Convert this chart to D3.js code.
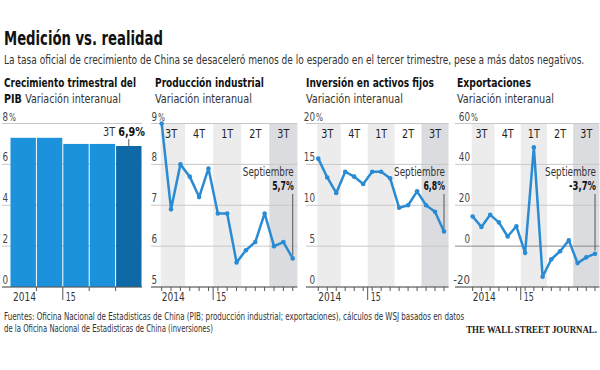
<!DOCTYPE html>
<html>
<head>
<meta charset="utf-8">
<script src="https://cdn.jsdelivr.net/npm/d3@7"></script>
<style>
  body { margin: 0; background: #fff; }
  svg text { font-family: "Liberation Sans Narrow", "DejaVu Sans Condensed", "Roboto", sans-serif; fill: #222; }
</style>
</head>
<body>
<div id="chart"></div>
<script>
// data
const months = ["jul 2014", "ago", "sep", "oct", "nov", "dic", "ene 2015", "feb", "mar", "abr", "may", "jun", "jul", "ago", "sep"];
const quarterLabels = ["3T", "4T", "1T", "2T", "3T"];
const gdpQuarters = ["3T 2014", "4T 2014", "1T 2015", "2T 2015", "3T 2015"];
const gdpValues = [7.3, 7.3, 7.0, 7.0, 6.9];
const industrialValues = [9.0, 6.9, 8.0, 7.7, 7.2, 7.9, 6.8, 6.8, 5.6, 5.9, 6.1, 6.8, 6.0, 6.1, 5.7];
const investmentValues = [15.7, 13.4, 11.5, 14.1, 13.5, 12.6, 14.1, 14.1, 13.3, 9.7, 10.0, 11.7, 10.0, 9.2, 6.8];
const exportValues = [14.5, 9.4, 15.3, 11.6, 4.7, 9.7, -3.3, 48.3, -15.0, -6.4, -2.5, 2.8, -8.3, -5.5, -3.7];
const gdpTicks = [0, 2, 4, 6, 8];
const industrialTicks = [5, 6, 7, 8, 9];
const investmentTicks = [0, 5, 10, 15, 20];
const exportTicks = [-20, 0, 20, 40, 60];
const yearLabels = ["2014", "15"];

const width = 600;
const height = 370;
const yTop = 123.5;
const yBase = 287;
const blue = "#1b92db";
const darkBlue = "#0e6aa7";
const lineBlue = "#2a8bd3";

const svg = d3.select("#chart")
  .append("svg")
  .attr("width", width)
  .attr("height", height);

// squeeze a text horizontally to the width it has in the reference (narrow font look)
function fit(sel, w, ratio = 1.35) {
  const node = sel.node();
  let len = node.getComputedTextLength();
  if (len > w * ratio) {
    const fs = parseFloat(sel.attr("font-size"));
    sel.attr("font-size", fs * w * ratio / len);
    len = node.getComputedTextLength();
  }
  const x = +sel.attr("x"), y = +sel.attr("y");
  sel.attr("x", 0).attr("y", 0)
    .attr("transform", `translate(${x},${y}) scale(${w / len},1)`);
}

// header
svg.append("text")
  .attr("x", 4).attr("y", 45)
  .attr("font-size", 19).attr("font-weight", "bold")
  .style("fill", "#111")
  .text("Medición vs. realidad")
  .call(fit, 159);

svg.append("text")
  .attr("x", 4).attr("y", 64)
  .attr("font-size", 12.5)
  .style("fill", "#333")
  .text("La tasa oficial de crecimiento de China se desaceleró menos de lo esperado en el tercer trimestre, pese a más datos negativos.")
  .call(fit, 581);

function panelTitle(x, line1, w1, boldPart, line2, w2) {
  svg.append("text")
    .attr("x", x).attr("y", 87)
    .attr("font-size", 12.5).attr("font-weight", "bold")
    .style("fill", "#111")
    .text(line1)
    .call(fit, w1);
  const t = svg.append("text")
    .attr("x", x).attr("y", 103)
    .attr("font-size", 12.5)
    .style("fill", "#333");
  if (boldPart) {
    t.append("tspan").attr("font-weight", "bold").style("fill", "#111").text(boldPart + " ");
  }
  t.append("tspan").text(line2);
  t.call(fit, w2);
}

panelTitle(4, "Crecimiento trimestral del", 132, "PIB", "Variación interanual", 117);
panelTitle(155, "Producción industrial", 109, null, "Variación interanual", 97);
panelTitle(306, "Inversión en activos fijos", 128, null, "Variación interanual", 97);
panelTitle(457, "Exportaciones", 74, null, "Variación interanual", 97);

function yLabels(g, y, ticks, xRight) {
  ticks.forEach((t, i) => {
    const s = String(t);
    g.append("text")
      .attr("x", xRight).attr("y", y(t) - 3)
      .attr("text-anchor", "end")
      .attr("font-size", 12)
      .style("fill", "#444")
      .text(s)
      .call(fit, s.length * 5.6);
    if (i === ticks.length - 1) {
      g.append("text")
        .attr("x", xRight + 1).attr("y", y(t) - 3)
        .attr("font-size", 10)
        .style("fill", "#444")
        .text("%")
        .call(fit, 7);
    }
  });
}

// GDP panel
{
  const g = svg.append("g");
  const y = d3.scaleLinear().domain([0, 8]).range([yBase, yTop]);
  const x = d3.scaleBand().domain(gdpQuarters).range([10, 142]);

  g.selectAll(".grid")
    .data(gdpTicks)
    .join("line")
    .attr("x1", 2).attr("x2", 142)
    .attr("y1", d => y(d)).attr("y2", d => y(d))
    .attr("stroke", "#c8c8c8");

  g.selectAll("rect")
    .data(gdpValues)
    .join("rect")
    .attr("x", (d, i) => x(gdpQuarters[i]) + 0.5)
    .attr("width", x.bandwidth() - 1)
    .attr("y", d => y(d))
    .attr("height", d => yBase - y(d))
    .attr("fill", (d, i) => i === gdpValues.length - 1 ? darkBlue : blue);

  yLabels(g, y, gdpTicks, 8);

  g.append("line")
    .attr("x1", 2).attr("x2", 142)
    .attr("y1", yBase).attr("y2", yBase)
    .attr("stroke", "#555");

  gdpQuarters.slice(1).forEach((q, i) => {
    g.append("line")
      .attr("x1", x(q)).attr("x2", x(q))
      .attr("y1", yBase).attr("y2", yBase + (i === 1 ? 13 : 4))
      .attr("stroke", "#555");
  });

  g.append("text").attr("x", 13).attr("y", 301).attr("font-size", 12).style("fill", "#333").text(yearLabels[0]).call(fit, 23);
  g.append("text").attr("x", x(gdpQuarters[2]) + 3).attr("y", 301).attr("font-size", 12).style("fill", "#333").text(yearLabels[1]).call(fit, 10);

  const last = gdpValues.length - 1;
  const cx = x(gdpQuarters[last]) + x.bandwidth() / 2;
  const ann = g.append("text")
    .attr("x", 145).attr("y", 136)
    .attr("text-anchor", "end")
    .attr("font-size", 12)
    .style("fill", "#333");
  ann.append("tspan").text("3T ");
  ann.append("tspan").attr("font-weight", "bold").style("fill", "#111").text(String(gdpValues[last]).replace(".", ",") + "%");
  ann.call(fit, 42);
  g.append("line")
    .attr("x1", cx).attr("x2", cx)
    .attr("y1", 139).attr("y2", y(gdpValues[last]))
    .attr("stroke", "#555");
}

// line panels
function linePanel(cfg) {
  const g = svg.append("g");
  const x = d3.scaleLinear().domain([-0.5, months.length - 0.5]).range(cfg.range);
  const y = d3.scaleLinear().domain(d3.extent(cfg.ticks)).range([yBase, yTop]);
  const left = x(0) - 1;

  quarterLabels.forEach((q, i) => {
    const x0 = Math.max(x(i * 3 - 0.5), left);
    const x1 = x(i * 3 + 2.5);
    const fill = i === 4 ? "#dbdcdf" : (i % 2 === 0 ? "#ececec" : "none");
    g.append("rect")
      .attr("x", x0).attr("width", x1 - x0)
      .attr("y", yTop).attr("height", yBase - yTop)
      .attr("fill", fill);
    g.append("text")
      .attr("x", x(i * 3 + 1)).attr("y", 138)
      .attr("text-anchor", "middle")
      .attr("font-size", 12)
      .style("fill", "#222")
      .text(q)
      .call(fit, 12);
  });

  g.selectAll(".grid")
    .data(cfg.ticks)
    .join("line")
    .attr("x1", cfg.gridLeft).attr("x2", x(months.length - 0.5))
    .attr("y1", d => y(d)).attr("y2", d => y(d))
    .attr("stroke", d => d === 0 && cfg.ticks[0] < 0 ? "#8a8a8a" : "#c8c8c8");

  yLabels(g, y, cfg.ticks, cfg.labelRight);

  g.append("line")
    .attr("x1", cfg.gridLeft).attr("x2", x(months.length - 0.5))
    .attr("y1", yBase).attr("y2", yBase)
    .attr("stroke", "#555");

  months.forEach((m, i) => {
    g.append("line")
      .attr("x1", x(i)).attr("x2", x(i))
      .attr("y1", yBase).attr("y2", yBase + 4)
      .attr("stroke", "#555");
  });
  g.append("line")
    .attr("x1", x(5.5)).attr("x2", x(5.5))
    .attr("y1", yBase).attr("y2", yBase + 13)
    .attr("stroke", "#555");

  g.append("text").attr("x", x(0)).attr("y", 301).attr("font-size", 12).style("fill", "#333").text(yearLabels[0]).call(fit, 23);
  g.append("text").attr("x", x(5.5) + 3).attr("y", 301).attr("font-size", 12).style("fill", "#333").text(yearLabels[1]).call(fit, 10);

  const line = d3.line()
    .x((d, i) => x(i))
    .y(d => y(d));

  g.append("path")
    .datum(cfg.values)
    .attr("d", line)
    .attr("fill", "none")
    .attr("stroke", lineBlue)
    .attr("stroke-width", 2.5)
    .attr("stroke-linejoin", "round");

  g.selectAll("circle")
    .data(cfg.values)
    .join("circle")
    .attr("cx", (d, i) => x(i))
    .attr("cy", d => y(d))
    .attr("r", 2.3)
    .attr("fill", lineBlue);

  const last = cfg.values.length - 1;
  const lx = x(last);
  const label = String(cfg.values[last]).replace(".", ",") + "%";
  g.append("text")
    .attr("x", lx + 1).attr("y", 176)
    .attr("text-anchor", "end")
    .attr("font-size", 12.5)
    .style("fill", "#333")
    .text("Septiembre")
    .call(fit, 51);
  g.append("text")
    .attr("x", lx + 1).attr("y", 190)
    .attr("text-anchor", "end")
    .attr("font-size", 12.5)
    .attr("font-weight", "bold")
    .style("fill", "#111")
    .text(label)
    .call(fit, label.length * 5.4);
  g.append("line")
    .attr("x1", lx).attr("x2", lx)
    .attr("y1", 194).attr("y2", y(cfg.values[last]) - 3)
    .attr("stroke", "#555");
}

linePanel({ values: industrialValues, ticks: industrialTicks, range: [157, 297.4], gridLeft: 151, labelRight: 157 });
linePanel({ values: investmentValues, ticks: investmentTicks, range: [313.8, 448.5], gridLeft: 306, labelRight: 315 });
linePanel({ values: exportValues, ticks: exportTicks, range: [468.3, 599.4], gridLeft: 455, labelRight: 470 });

// footer
svg.append("text")
  .attr("x", 4).attr("y", 320)
  .attr("font-size", 10.5)
  .style("fill", "#333")
  .text("Fuentes: Oficina Nacional de Estadisticas de China (PIB; producción industrial; exportaciones), cálculos de WSJ basados en datos")
  .call(fit, 461, 1.6);
svg.append("text")
  .attr("x", 4).attr("y", 332)
  .attr("font-size", 10.5)
  .style("fill", "#333")
  .text("de la Oficina Nacional de Estadisticas de China (inversiones)")
  .call(fit, 209, 1.6);
svg.append("text")
  .attr("x", 597).attr("y", 333)
  .attr("text-anchor", "end")
  .attr("font-size", 9.5)
  .attr("font-weight", "bold")
  .style("font-family", "'Liberation Serif', 'DejaVu Serif', serif")
  .style("fill", "#222")
  .text("THE WALL STREET JOURNAL.")
  .call(fit, 131);
</script>
</body>
</html>
